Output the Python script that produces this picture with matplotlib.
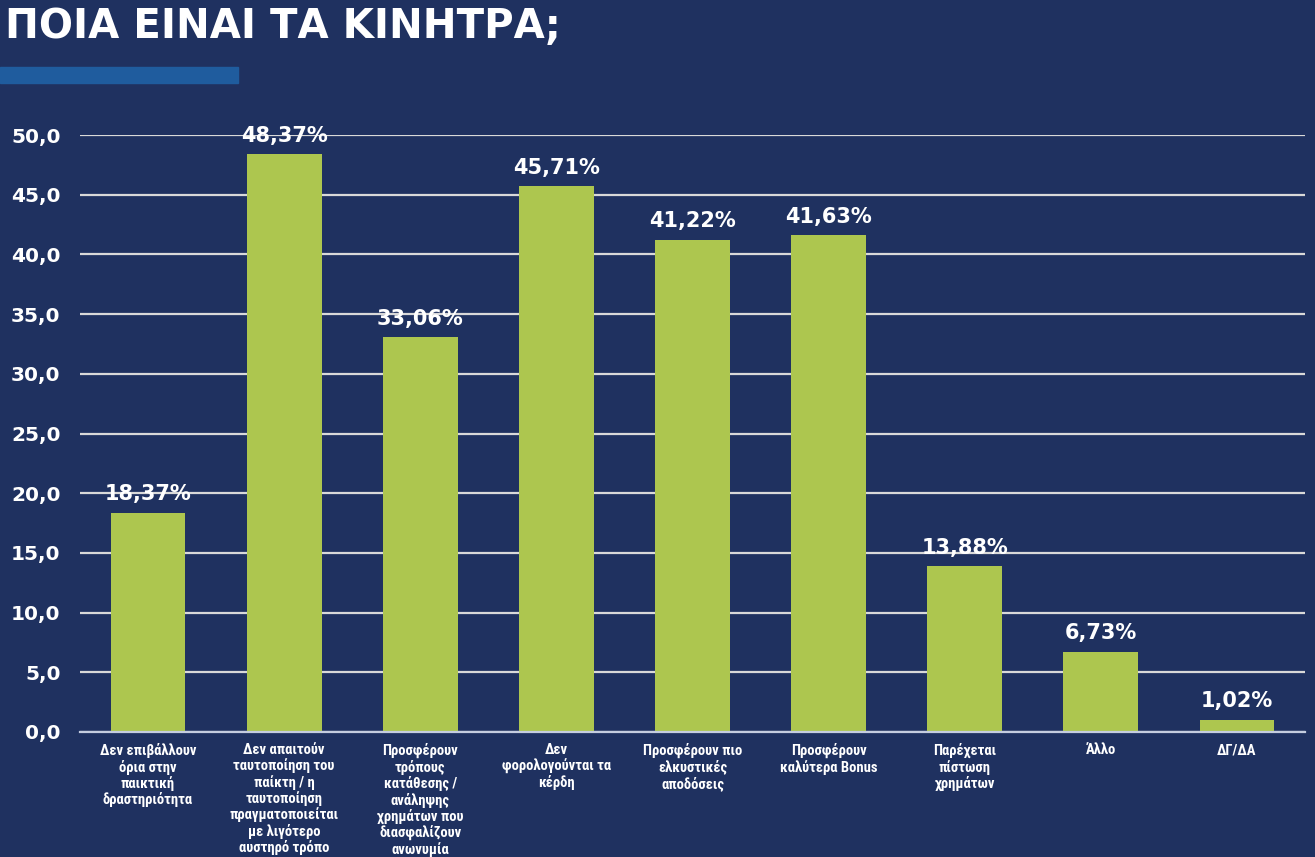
"""Incentives chart: ΠΟΙΑ ΕΙΝΑΙ ΤΑ ΚΙΝΗΤΡΑ;"""
import matplotlib
matplotlib.use("Agg")
import matplotlib.pyplot as plt
from matplotlib import font_manager
from matplotlib.patches import Rectangle

categories = [
    "Δεν επιβάλλουν\nόρια στην\nπαικτική\nδραστηριότητα",
    "Δεν απαιτούν\nταυτοποίηση του\nπαίκτη / η\nταυτοποίηση\nπραγματοποιείται\nμε λιγότερο\nαυστηρό τρόπο",
    "Προσφέρουν\nτρόπους\nκατάθεσης /\nανάληψης\nχρημάτων που\nδιασφαλίζουν\nανωνυμία",
    "Δεν\nφορολογούνται τα\nκέρδη",
    "Προσφέρουν πιο\nελκυστικές\nαποδόσεις",
    "Προσφέρουν\nκαλύτερα Bonus",
    "Παρέχεται\nπίστωση\nχρημάτων",
    "Άλλο",
    "ΔΓ/ΔΑ",
]
values = [18.37, 48.37, 33.06, 45.71, 41.22, 41.63, 13.88, 6.73, 1.02]
yticks = [0, 5, 10, 15, 20, 25, 30, 35, 40, 45, 50]

BG = "#1f3160"
GREEN = "#adc64f"
GRID = "#d9d9d9"

plt.rcParams["font.family"] = ["DejaVu Sans"]

# narrow face for the category labels, if one is installed
names = {f.name for f in font_manager.fontManager.ttflist}
narrow = [n for n in ["Liberation Sans Narrow", "DejaVu Sans Condensed",
                      "Roboto Condensed", "Roboto"] if n in names]
cat_family = [narrow[0], "DejaVu Sans"] if narrow else ["DejaVu Sans"]

fig = plt.figure(figsize=(13.15, 8.57), dpi=100)
fig.patch.set_facecolor(BG)

# title + accent bar
fig.text(0.004, 1 - 38 / 857, "ΠΟΙΑ ΕΙΝΑΙ ΤΑ ΚΙΝΗΤΡΑ;", color="white",
         fontsize=29, fontweight="bold", va="baseline", ha="left")
fig.patches.append(Rectangle((0.0, 1 - 83 / 857), 238 / 1315, 16 / 857,
                             transform=fig.transFigure, color="#1f5c9e"))

ax = fig.add_axes([80 / 1315, 1 - 732 / 857, 1225 / 1315, 597 / 857])
ax.set_facecolor(BG)
x = list(range(len(values)))
ax.bar(x, values, width=0.55, color=GREEN, zorder=2)
ax.set_xlim(-0.5, len(values) - 0.5)
ax.set_ylim(0, 50)

for xi, v in zip(x, values):
    ax.annotate(f"{v:.2f}%".replace(".", ","), (xi, v), xytext=(0, 6),
                textcoords="offset points", ha="center", va="bottom",
                color="white", fontsize=15, fontweight="bold",
                annotation_clip=False, zorder=3)

ax.set_yticks(yticks)
ax.set_yticklabels([f"{t:.1f}".replace(".", ",") for t in yticks],
                   color="white", fontsize=14.5, fontweight="bold")
ax.yaxis.grid(True, color=GRID, linewidth=1.6, zorder=1)
ax.set_axisbelow(True)
ax.tick_params(axis="y", length=0, pad=14)
ax.tick_params(axis="x", length=0, pad=8)
ax.set_xticks(x)
ax.set_xticklabels(categories, color="white", fontsize=10.5,
                   fontweight="bold", linespacing=1.12, va="top",
                   family=cat_family)
for s in ["top", "right", "left"]:
    ax.spines[s].set_visible(False)
ax.spines["bottom"].set_color("#c5cde0")
ax.spines["bottom"].set_linewidth(1.6)

plt.savefig("out.png", dpi=100, facecolor=BG)
plt.close()
